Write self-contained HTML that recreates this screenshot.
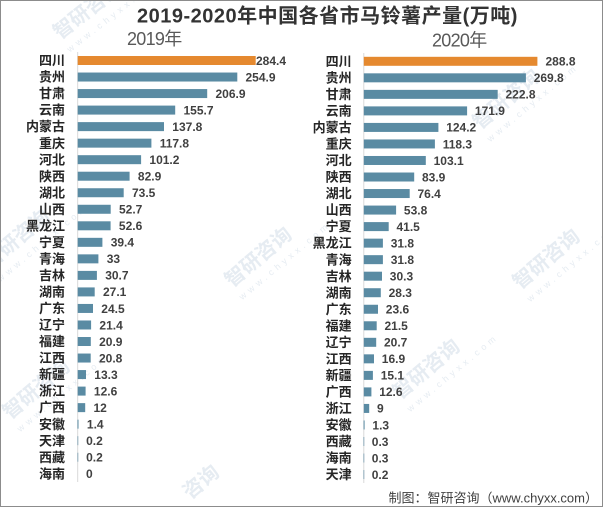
<!DOCTYPE html>
<html><head><meta charset="utf-8"><style>
html,body{margin:0;padding:0;background:#fff;width:603px;height:507px;overflow:hidden;}
svg{display:block;overflow:hidden;}
.c{font-family:"Liberation Sans","Noto Sans CJK SC",sans-serif;font-size:13px;font-weight:bold;fill:#262626;text-anchor:end;}
.v{font-family:"Liberation Sans","Noto Sans CJK SC",sans-serif;font-size:12px;font-weight:bold;fill:#404040;}
.wm{font-family:"Liberation Sans","Noto Sans CJK SC",sans-serif;fill:#e6ecf2;}
</style></head><body>
<svg width="603" height="507" viewBox="0 0 603 507" xmlns="http://www.w3.org/2000/svg">
<rect x="0" y="0" width="603" height="507" fill="#fff"/>
<!-- watermarks -->
<g class="wm">
<g transform="translate(60,40) rotate(-38)"><text font-size="20" font-weight="bold">智研咨询</text><text y="16" font-size="9" letter-spacing="4">www.chyxx.com</text></g>
<g transform="translate(232,288) rotate(-40)"><text font-size="20" font-weight="bold">智研咨询</text><text y="16" font-size="9" letter-spacing="4">www.chyxx.com</text></g>
<g transform="translate(480,130) rotate(-40)"><text font-size="20" font-weight="bold">智研咨询</text><text y="16" font-size="9" letter-spacing="4">www.chyxx.com</text></g>
<g transform="translate(10,420) rotate(-40)"><text font-size="20" font-weight="bold">智研咨询</text><text y="16" font-size="9" letter-spacing="4">www.chyxx.com</text></g>
<g transform="translate(400,400) rotate(-40)"><text font-size="20" font-weight="bold">智研咨询</text><text y="16" font-size="9" letter-spacing="4">www.chyxx.com</text></g>
<g transform="translate(-10,270) rotate(-40)"><text font-size="20" font-weight="bold">智研咨询</text><text y="16" font-size="9" letter-spacing="4">www.chyxx.com</text></g>
<g transform="translate(520,290) rotate(-40)"><text font-size="20" font-weight="bold">智研咨询</text><text y="16" font-size="9" letter-spacing="4">www.chyxx.com</text></g>
<g transform="translate(190,500) rotate(-40)"><text font-size="20" font-weight="bold">咨询</text></g>
</g>
<!-- title -->
<text x="137" y="22.7" font-family="'Liberation Sans','Noto Sans CJK SC',sans-serif" font-size="20" font-weight="bold" fill="#333" letter-spacing="0.5">2019-2020年中国各省市马铃薯产量(万吨)</text>
<text x="127" y="45" font-family="'Liberation Sans','Noto Sans CJK SC',sans-serif" font-size="18" fill="#595959" letter-spacing="-0.7">2019年</text>
<text x="432" y="46.5" font-family="'Liberation Sans','Noto Sans CJK SC',sans-serif" font-size="18" fill="#595959" letter-spacing="-0.7">2020年</text>
<!-- axis lines -->
<line x1="77.7" y1="52" x2="77.7" y2="482" stroke="#d9d9d9" stroke-width="1"/>
<line x1="363.8" y1="53" x2="363.8" y2="483" stroke="#d9d9d9" stroke-width="1"/>
<!-- left chart 2019 -->
<g fill="#5A8BA3">
<g transform="translate(0,60.5)"><text class="c" x="65" y="4.6">四川</text><rect x="77.7" y="-4.5" width="178" height="9" fill="#E5892F"/><text class="v" x="256" y="4.3">284.4</text></g>
<g transform="translate(0,77.03)"><text class="c" x="65" y="4.6">贵州</text><rect x="77.7" y="-4.5" width="159.6" height="9"/><text class="v" x="245.5" y="4.3">254.9</text></g>
<g transform="translate(0,93.56)"><text class="c" x="65" y="4.6">甘肃</text><rect x="77.7" y="-4.5" width="129.5" height="9"/><text class="v" x="215.5" y="4.3">206.9</text></g>
<g transform="translate(0,110.09)"><text class="c" x="65" y="4.6">云南</text><rect x="77.7" y="-4.5" width="97.5" height="9"/><text class="v" x="183.5" y="4.3">155.7</text></g>
<g transform="translate(0,126.62)"><text class="c" x="65" y="4.6">内蒙古</text><rect x="77.7" y="-4.5" width="86.3" height="9"/><text class="v" x="172.3" y="4.3">137.8</text></g>
<g transform="translate(0,143.15)"><text class="c" x="65" y="4.6">重庆</text><rect x="77.7" y="-4.5" width="73.7" height="9"/><text class="v" x="159.7" y="4.3">117.8</text></g>
<g transform="translate(0,159.68)"><text class="c" x="65" y="4.6">河北</text><rect x="77.7" y="-4.5" width="63.4" height="9"/><text class="v" x="149.4" y="4.3">101.2</text></g>
<g transform="translate(0,176.21)"><text class="c" x="65" y="4.6">陕西</text><rect x="77.7" y="-4.5" width="51.9" height="9"/><text class="v" x="137.9" y="4.3">82.9</text></g>
<g transform="translate(0,192.74)"><text class="c" x="65" y="4.6">湖北</text><rect x="77.7" y="-4.5" width="46" height="9"/><text class="v" x="132" y="4.3">73.5</text></g>
<g transform="translate(0,209.27)"><text class="c" x="65" y="4.6">山西</text><rect x="77.7" y="-4.5" width="33" height="9"/><text class="v" x="119" y="4.3">52.7</text></g>
<g transform="translate(0,225.8)"><text class="c" x="65" y="4.6">黑龙江</text><rect x="77.7" y="-4.5" width="32.9" height="9"/><text class="v" x="118.9" y="4.3">52.6</text></g>
<g transform="translate(0,242.33)"><text class="c" x="65" y="4.6">宁夏</text><rect x="77.7" y="-4.5" width="24.7" height="9"/><text class="v" x="110.7" y="4.3">39.4</text></g>
<g transform="translate(0,258.86)"><text class="c" x="65" y="4.6">青海</text><rect x="77.7" y="-4.5" width="20.7" height="9"/><text class="v" x="106.7" y="4.3">33</text></g>
<g transform="translate(0,275.39)"><text class="c" x="65" y="4.6">吉林</text><rect x="77.7" y="-4.5" width="19.2" height="9"/><text class="v" x="105.2" y="4.3">30.7</text></g>
<g transform="translate(0,291.92)"><text class="c" x="65" y="4.6">湖南</text><rect x="77.7" y="-4.5" width="17" height="9"/><text class="v" x="103" y="4.3">27.1</text></g>
<g transform="translate(0,308.45)"><text class="c" x="65" y="4.6">广东</text><rect x="77.7" y="-4.5" width="15.3" height="9"/><text class="v" x="101.3" y="4.3">24.5</text></g>
<g transform="translate(0,324.98)"><text class="c" x="65" y="4.6">辽宁</text><rect x="77.7" y="-4.5" width="13.4" height="9"/><text class="v" x="99.4" y="4.3">21.4</text></g>
<g transform="translate(0,341.51)"><text class="c" x="65" y="4.6">福建</text><rect x="77.7" y="-4.5" width="13.1" height="9"/><text class="v" x="99.1" y="4.3">20.9</text></g>
<g transform="translate(0,358.04)"><text class="c" x="65" y="4.6">江西</text><rect x="77.7" y="-4.5" width="13" height="9"/><text class="v" x="99" y="4.3">20.8</text></g>
<g transform="translate(0,374.57)"><text class="c" x="65" y="4.6">新疆</text><rect x="77.7" y="-4.5" width="8.3" height="9"/><text class="v" x="94.3" y="4.3">13.3</text></g>
<g transform="translate(0,391.1)"><text class="c" x="65" y="4.6">浙江</text><rect x="77.7" y="-4.5" width="7.9" height="9"/><text class="v" x="93.9" y="4.3">12.6</text></g>
<g transform="translate(0,407.63)"><text class="c" x="65" y="4.6">广西</text><rect x="77.7" y="-4.5" width="7.5" height="9"/><text class="v" x="93.5" y="4.3">12</text></g>
<g transform="translate(0,424.16)"><text class="c" x="65" y="4.6">安徽</text><rect x="77.5" y="-4.5" width="1" height="9"/><text class="v" x="86.9" y="4.3">1.4</text></g>
<g transform="translate(0,440.69)"><text class="c" x="65" y="4.6">天津</text><rect x="77.6" y="-4.5" width="0.6" height="9"/><text class="v" x="86.1" y="4.3">0.2</text></g>
<g transform="translate(0,457.22)"><text class="c" x="65" y="4.6">西藏</text><rect x="77.6" y="-4.5" width="0.6" height="9"/><text class="v" x="86.1" y="4.3">0.2</text></g>
<g transform="translate(0,473.75)"><text class="c" x="65" y="4.6">海南</text><text class="v" x="86" y="4.3">0</text></g>
</g>
<!-- right chart 2020 -->
<g fill="#5A8BA3">
<g transform="translate(0,61.3)"><text class="c" x="351.7" y="4.6">四川</text><rect x="363.8" y="-4.5" width="173.6" height="9" fill="#E5892F"/><text class="v" x="545.5" y="4.3">288.8</text></g>
<g transform="translate(0,77.83)"><text class="c" x="351.7" y="4.6">贵州</text><rect x="363.8" y="-4.5" width="162.1" height="9"/><text class="v" x="533.7" y="4.3">269.8</text></g>
<g transform="translate(0,94.36)"><text class="c" x="351.7" y="4.6">甘肃</text><rect x="363.8" y="-4.5" width="133.9" height="9"/><text class="v" x="505.5" y="4.3">222.8</text></g>
<g transform="translate(0,110.89)"><text class="c" x="351.7" y="4.6">云南</text><rect x="363.8" y="-4.5" width="103.3" height="9"/><text class="v" x="474.9" y="4.3">171.9</text></g>
<g transform="translate(0,127.42)"><text class="c" x="351.7" y="4.6">内蒙古</text><rect x="363.8" y="-4.5" width="74.6" height="9"/><text class="v" x="446.2" y="4.3">124.2</text></g>
<g transform="translate(0,143.95)"><text class="c" x="351.7" y="4.6">重庆</text><rect x="363.8" y="-4.5" width="71.1" height="9"/><text class="v" x="442.7" y="4.3">118.3</text></g>
<g transform="translate(0,160.48)"><text class="c" x="351.7" y="4.6">河北</text><rect x="363.8" y="-4.5" width="62" height="9"/><text class="v" x="433.6" y="4.3">103.1</text></g>
<g transform="translate(0,177.01)"><text class="c" x="351.7" y="4.6">陕西</text><rect x="363.8" y="-4.5" width="50.4" height="9"/><text class="v" x="422" y="4.3">83.9</text></g>
<g transform="translate(0,193.54)"><text class="c" x="351.7" y="4.6">湖北</text><rect x="363.8" y="-4.5" width="45.9" height="9"/><text class="v" x="417.5" y="4.3">76.4</text></g>
<g transform="translate(0,210.07)"><text class="c" x="351.7" y="4.6">山西</text><rect x="363.8" y="-4.5" width="32.3" height="9"/><text class="v" x="403.9" y="4.3">53.8</text></g>
<g transform="translate(0,226.6)"><text class="c" x="351.7" y="4.6">宁夏</text><rect x="363.8" y="-4.5" width="24.9" height="9"/><text class="v" x="396.5" y="4.3">41.5</text></g>
<g transform="translate(0,243.13)"><text class="c" x="351.7" y="4.6">黑龙江</text><rect x="363.8" y="-4.5" width="19.1" height="9"/><text class="v" x="390.7" y="4.3">31.8</text></g>
<g transform="translate(0,259.66)"><text class="c" x="351.7" y="4.6">青海</text><rect x="363.8" y="-4.5" width="19.1" height="9"/><text class="v" x="390.7" y="4.3">31.8</text></g>
<g transform="translate(0,276.19)"><text class="c" x="351.7" y="4.6">吉林</text><rect x="363.8" y="-4.5" width="18.2" height="9"/><text class="v" x="389.8" y="4.3">30.3</text></g>
<g transform="translate(0,292.72)"><text class="c" x="351.7" y="4.6">湖南</text><rect x="363.8" y="-4.5" width="17" height="9"/><text class="v" x="388.6" y="4.3">28.3</text></g>
<g transform="translate(0,309.25)"><text class="c" x="351.7" y="4.6">广东</text><rect x="363.8" y="-4.5" width="14.2" height="9"/><text class="v" x="385.8" y="4.3">23.6</text></g>
<g transform="translate(0,325.78)"><text class="c" x="351.7" y="4.6">福建</text><rect x="363.8" y="-4.5" width="12.9" height="9"/><text class="v" x="384.5" y="4.3">21.5</text></g>
<g transform="translate(0,342.31)"><text class="c" x="351.7" y="4.6">辽宁</text><rect x="363.8" y="-4.5" width="12.4" height="9"/><text class="v" x="384" y="4.3">20.7</text></g>
<g transform="translate(0,358.84)"><text class="c" x="351.7" y="4.6">江西</text><rect x="363.8" y="-4.5" width="10.2" height="9"/><text class="v" x="381.8" y="4.3">16.9</text></g>
<g transform="translate(0,375.37)"><text class="c" x="351.7" y="4.6">新疆</text><rect x="363.8" y="-4.5" width="9.1" height="9"/><text class="v" x="380.7" y="4.3">15.1</text></g>
<g transform="translate(0,391.9)"><text class="c" x="351.7" y="4.6">广西</text><rect x="363.8" y="-4.5" width="7.6" height="9"/><text class="v" x="379.2" y="4.3">12.6</text></g>
<g transform="translate(0,408.43)"><text class="c" x="351.7" y="4.6">浙江</text><rect x="363.8" y="-4.5" width="5.4" height="9"/><text class="v" x="377" y="4.3">9</text></g>
<g transform="translate(0,424.96)"><text class="c" x="351.7" y="4.6">安徽</text><rect x="363.6" y="-4.5" width="1" height="9"/><text class="v" x="372.4" y="4.3">1.3</text></g>
<g transform="translate(0,441.49)"><text class="c" x="351.7" y="4.6">西藏</text><rect x="363.6" y="-4.5" width="0.6" height="9"/><text class="v" x="371.8" y="4.3">0.3</text></g>
<g transform="translate(0,458.02)"><text class="c" x="351.7" y="4.6">海南</text><rect x="363.6" y="-4.5" width="0.6" height="9"/><text class="v" x="371.8" y="4.3">0.3</text></g>
<g transform="translate(0,474.55)"><text class="c" x="351.7" y="4.6">天津</text><rect x="363.6" y="-4.5" width="0.6" height="9"/><text class="v" x="371.7" y="4.3">0.2</text></g>
</g>
<!-- footer -->
<text x="598" y="502.5" text-anchor="end" font-family="'Liberation Sans','Noto Sans CJK SC',sans-serif" font-size="13" fill="#404040">制图：智研咨询（www.chyxx.com）</text>
<!-- border -->
<rect x="0.5" y="0.5" width="602" height="506" fill="none" stroke="#8c8c8c" stroke-width="1"/>
</svg>
</body></html>
